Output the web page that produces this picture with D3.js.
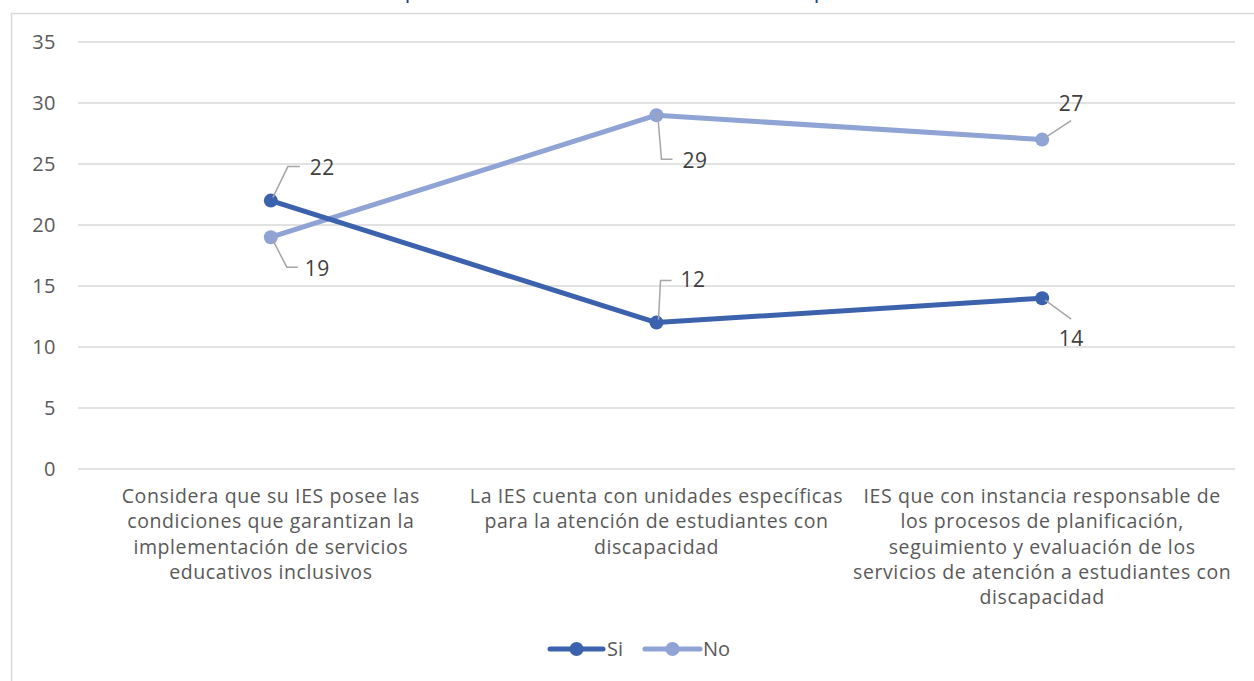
<!DOCTYPE html>
<html><head><meta charset="utf-8">
<script src="https://cdn.jsdelivr.net/npm/d3@7"></script>
<style>
html,body{margin:0;padding:0;background:#fff;}
svg{display:block;font-family:"Open Sans",sans-serif;}
</style></head>
<body><svg id="c" width="1254" height="681"></svg>
<script>
const categories = [
  ["Considera que su IES posee las","condiciones que garantizan la","implementación de servicios","educativos inclusivos"],
  ["La IES cuenta con unidades específicas","para la atención de estudiantes con","discapacidad"],
  ["IES que con instancia responsable de","los procesos de planificación,","seguimiento y evaluación de los","servicios de atención a estudiantes con","discapacidad"]
];
const seriesNames = ["Si","No"];
const siValues = [22,12,14];
const noValues = [19,29,27];
const yTicks = [0,5,10,15,20,25,30,35];
const title = "Condiciones para la atención a estudiantes con discapacidad en las IES";

const colors = {Si:"#3d62ad", No:"#8fa3d5"};
const svg = d3.select("#c");

// outer frame
svg.append("path").attr("d","M11.5,681 V13.5 H1254").attr("fill","none").attr("stroke","#d9d9d9").attr("stroke-width",1.5);
// title (cut off at top, as in the reference)
svg.append("text").attr("x",635).attr("y",-2).attr("text-anchor","middle")
  .attr("font-size",22).attr("fill","#1f3a80").text(title);

const x = d3.scalePoint().domain(d3.range(categories.length)).range([78,1235]).padding(0.5);
const y = d3.scaleLinear().domain([0,35]).range([469,42]);

// gridlines
svg.append("g").selectAll("line").data(yTicks).join("line")
  .attr("x1",78).attr("x2",1235).attr("y1",d=>y(d)).attr("y2",d=>y(d))
  .attr("stroke","#d9d9d9").attr("stroke-width",1.5);

// y axis labels
const yAxis = d3.axisLeft(y).tickValues(yTicks).tickSize(0).tickPadding(0);
const ga = svg.append("g").attr("transform","translate(56,0)").call(yAxis);
ga.select(".domain").remove();
ga.selectAll("text").attr("font-size",20).attr("fill","#595959").attr("font-family","Open Sans").attr("letter-spacing",0.5);

// x category labels
categories.forEach((lines,i)=>{
  const t = svg.append("text").attr("text-anchor","middle").attr("font-size",19.5)
    .attr("letter-spacing",0.6).attr("fill","#595959");
  lines.forEach((l,j)=>{
    t.append("tspan").attr("x",x(i)).attr("y",503+j*25.3).text(l);
  });
});

const series = [{name:"Si",values:siValues},{name:"No",values:noValues}];
const line = d3.line().x((d,i)=>x(i)).y(d=>y(d));
series.slice().reverse().forEach(s=>{
  svg.append("path").datum(s.values).attr("d",line).attr("fill","none")
    .attr("stroke",colors[s.name]).attr("stroke-width",5).attr("stroke-linejoin","round");
});
series.slice().reverse().forEach(s=>{
  svg.append("g").selectAll("circle").data(s.values).join("circle")
    .attr("cx",(d,i)=>x(i)).attr("cy",d=>y(d)).attr("r",7).attr("fill",colors[s.name]);
});

// data labels with leader lines: offsets relative to the point
const labelOffsets = {
  Si:[ {lead:[[2,-3],[17,-34],[29,-34]], tx:39, ty:-33},
       {lead:[[2,-3],[4,-42],[15,-42]], tx:24, ty:-43},
       {lead:[[3,2],[29,21]], tx:29, ty:40} ],
  No:[ {lead:[[2,3],[16,30],[27,30]], tx:34, ty:31},
       {lead:[[1,-3],[5,44],[16,44]], tx:26, ty:45},
       {lead:[[3,-2],[29,-19]], tx:29, ty:-36} ]
};
series.forEach(s=>{
  s.values.forEach((v,i)=>{
    const o = labelOffsets[s.name][i];
    const px = x(i), py = y(v);
    svg.append("polyline").attr("points",o.lead.map(p=>[px+p[0],py+p[1]].join(",")).join(" "))
      .attr("fill","none").attr("stroke","#a6a6a6").attr("stroke-width",1.5);
    const anchor = o.lead.length===2 ? "middle" : "start";
    svg.append("text").attr("x",px+o.tx).attr("y",py+o.ty).attr("dy","0.35em")
      .attr("text-anchor",anchor).attr("font-size",21).attr("letter-spacing",0.5).attr("fill","#404040").text(v);
  });
});

// legend
const legend = [{name:"Si",x1:550,x2:603,tx:607},{name:"No",x1:645,x2:700,tx:703}];
legend.forEach(l=>{
  svg.append("line").attr("x1",l.x1).attr("x2",l.x2).attr("y1",649).attr("y2",649)
    .attr("stroke",colors[l.name]).attr("stroke-width",5).attr("stroke-linecap","round");
  svg.append("circle").attr("cx",(l.x1+l.x2)/2).attr("cy",649).attr("r",7).attr("fill",colors[l.name]);
  svg.append("text").attr("x",l.tx).attr("y",649).attr("dy","0.35em").attr("font-size",20).attr("fill","#595959").text(l.name);
});
</script></body></html>
